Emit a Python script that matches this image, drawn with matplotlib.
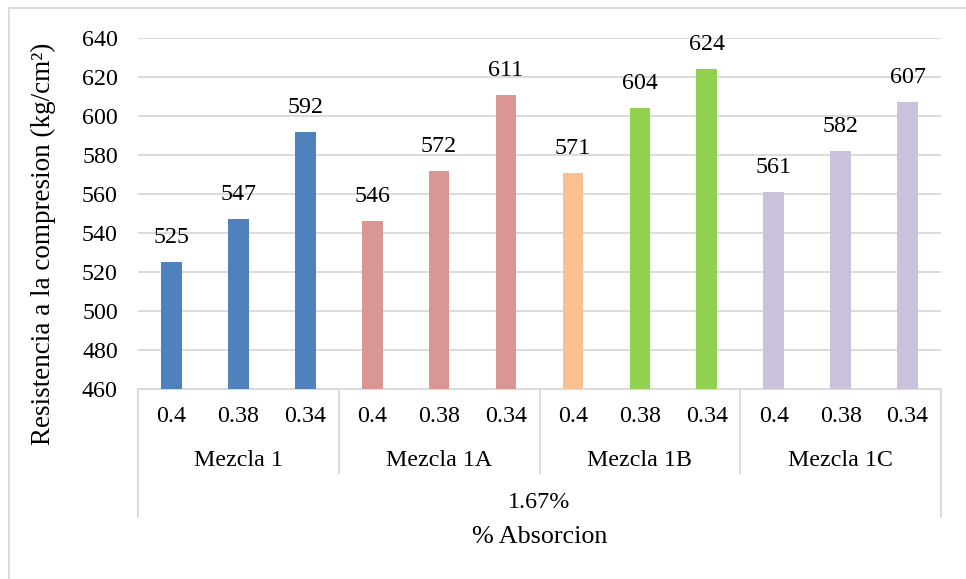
import matplotlib
matplotlib.use("Agg")
import matplotlib.pyplot as plt
from matplotlib.lines import Line2D
import matplotlib.transforms as mtransforms

plt.rcParams['font.family'] = ['Liberation Serif', 'DejaVu Serif']

groups = ["Mezcla 1", "Mezcla 1A", "Mezcla 1B", "Mezcla 1C"]
ratios = ["0.4", "0.38", "0.34"]
values = [525, 547, 592, 546, 572, 611, 571, 604, 624, 561, 582, 607]
colors = ["#4F81BD", "#4F81BD", "#4F81BD",
          "#D99694", "#D99694", "#D99694",
          "#FAC090", "#92D050", "#92D050",
          "#CCC1DA", "#CCC1DA", "#CCC1DA"]
top_label = "1.67%"
xlabel = "% Absorcion"
ylabel = "Resistencia a la compresion (kg/cm²)"
yticks = list(range(460, 641, 20))

FS = 17.3
W, H = 966, 579
fig = plt.figure(figsize=(W / 100, H / 100), dpi=100)
L, R, T, B = 138, 941, 38, 389
ax = fig.add_axes([L / W, 1 - B / H, (R - L) / W, (B - T) / H])

x = list(range(len(values)))
ax.bar(x, values, width=0.31, color=colors, zorder=3)
ax.set_xlim(-0.5, len(values) - 0.5)
ax.set_ylim(460, 640)
ax.set_yticks(yticks)
ax.tick_params(axis='y', length=0, pad=14.5, labelsize=FS, colors='#000000')
ax.set_xticks([])
ax.yaxis.grid(True, color='#D9D9D9', linewidth=1.3, zorder=0)
ax.set_axisbelow(True)
for s in ['left', 'right', 'top']:
    ax.spines[s].set_visible(False)
ax.spines['bottom'].set_color('#D9D9D9')
ax.spines['bottom'].set_linewidth(1.3)

for xi, v in zip(x, values):
    ax.annotate(str(v), (xi, v), xytext=(0, 10), textcoords='offset points',
                ha='center', va='bottom', fontsize=FS)

ph = B - T
def ay(py):
    return (B - py) / ph

trans = mtransforms.blended_transform_factory(ax.transData, ax.transAxes)
n = len(ratios)
for gi, g in enumerate(groups):
    for ri, r in enumerate(ratios):
        ax.text(gi * n + ri, ay(416), r, transform=trans, ha='center', va='center', fontsize=FS)
    ax.text(gi * n + (n - 1) / 2, ay(460), g, transform=trans, ha='center', va='center', fontsize=FS)

# separators
for k in range(len(groups) + 1):
    xs = k * n - 0.5
    bottom = ay(517) if k in (0, len(groups)) else ay(473)
    ax.add_line(Line2D([xs, xs], [0, bottom], transform=trans, color='#D9D9D9',
                       linewidth=1.3, clip_on=False))

ax.text((len(values) - 1) / 2, ay(503), top_label, transform=trans, ha='center', va='center', fontsize=FS)
ax.text((len(values) - 1) / 2, ay(537), xlabel, transform=trans, ha='center', va='center', fontsize=FS + 1.5)

fig.text(43 / W, 1 - 244 / H, ylabel, rotation=90, ha='center', va='center', fontsize=19.5)

# outer border (top and left visible)
fig.add_artist(Line2D([9 / W, 9 / W], [0, 1 - 8 / H], transform=fig.transFigure, color='#D9D9D9', linewidth=1.3))
fig.add_artist(Line2D([9 / W, 1], [1 - 8 / H, 1 - 8 / H], transform=fig.transFigure, color='#D9D9D9', linewidth=1.3))

fig.savefig("out.png", dpi=100)
